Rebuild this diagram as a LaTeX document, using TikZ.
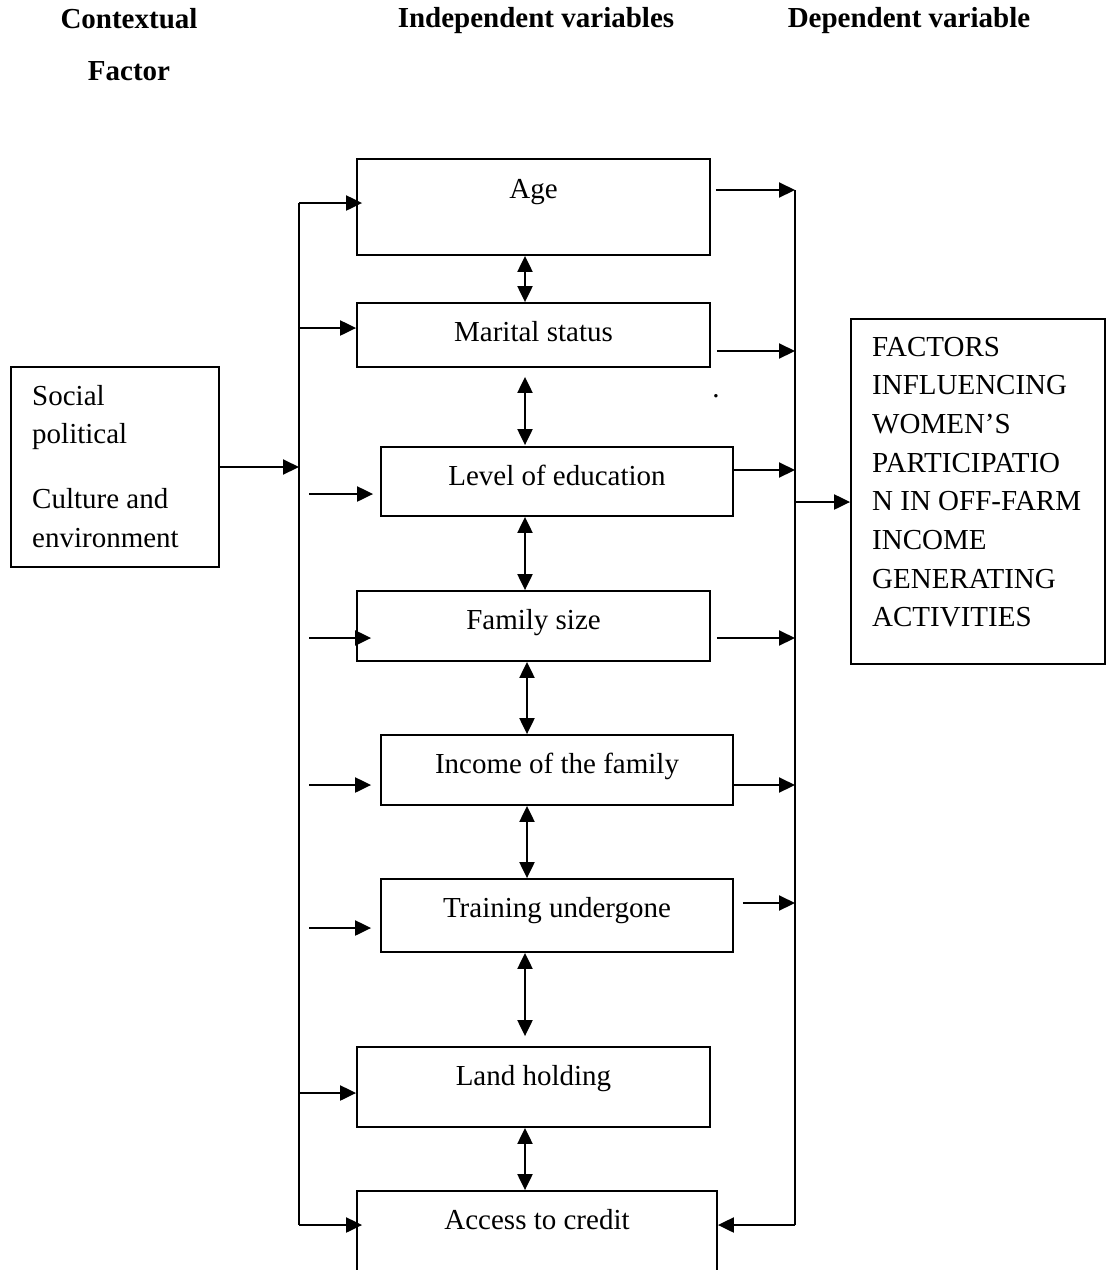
\documentclass[tikz,border=0pt]{standalone}
\usepackage{fontspec}
\setmainfont{Liberation Serif}
\usetikzlibrary{arrows.meta}
\begin{document}
\begin{tikzpicture}[x=1pt,y=-1pt,
  box/.style={draw, line width=1.8pt, inner sep=0pt},
  txt/.style={font=\fontsize{29}{38.7}\selectfont, inner sep=0pt, anchor=base},
  ltxt/.style={font=\fontsize{29}{38.7}\selectfont, inner sep=0pt, anchor=base west},
  ttl/.style={font=\fontsize{29}{38.7}\selectfont\bfseries, inner sep=0pt, anchor=base},
  ln/.style={line width=1.8pt},
  arr/.style={line width=2.1pt, -{Triangle[length=16pt,width=15pt]}},
  dbl/.style={line width=2.1pt, {Triangle[length=16pt,width=15pt]}-{Triangle[length=16pt,width=15pt]}}]
\useasboundingbox (0,0) rectangle (1109,1270);

% titles
\node[ttl] (t1) at (129,28) {Contextual};
\node[ttl] (t2) at (129,80) {Factor};
\node[ttl] (t3) at (536,27) {Independent variables};
\node[ttl] (t4) at (909,27) {Dependent variable};

% boxes
\node[box, minimum width=353pt, minimum height=96pt] (age) at (533.5,207) {};
\node[box, minimum width=353pt, minimum height=64pt] (mar) at (533.5,335) {};
\node[box, minimum width=352pt, minimum height=69pt] (edu) at (557,481.5) {};
\node[box, minimum width=353pt, minimum height=70pt] (fam) at (533.5,626) {};
\node[box, minimum width=352pt, minimum height=70pt] (inc) at (557,770) {};
\node[box, minimum width=352pt, minimum height=73pt] (trn) at (557,915.5) {};
\node[box, minimum width=353pt, minimum height=80pt] (land) at (533.5,1087) {};
\node[box, minimum width=360pt, minimum height=100pt] (acc) at (537,1241) {};
\node[box, minimum width=208pt, minimum height=200pt] (soc) at (115,467) {};
\node[box, minimum width=254pt, minimum height=345pt] (fac) at (978,491.5) {};

% box texts
\node[txt] (ageT) at (533.5,198) {Age};
\node[txt] (marT) at (533.5,341) {Marital status};
\node[txt] (eduT) at (557,485) {Level of education};
\node[txt] (famT) at (533.5,629) {Family size};
\node[txt] (incT) at (557,773) {Income of the family};
\node[txt] (trnT) at (557,917) {Training undergone};
\node[txt] (landT) at (533.5,1085) {Land holding};
\node[txt] (accT) at (537,1229) {Access to credit};

\node[ltxt] (s1) at (32,405) {Social};
\node[ltxt] (s2) at (32,443) {political};
\node[ltxt] (s3) at (32,508) {Culture and};
\node[ltxt] (s4) at (32,547) {environment};

\foreach \t [count=\i] in {FACTORS,INFLUENCING,WOMEN’S,PARTICIPATIO,N IN OFF-FARM,INCOME,GENERATING,ACTIVITIES}
  \node[ltxt] (f\i) at (872,{356+(\i-1)*38.7}) {\t};

\node[txt] (dot) at (716,397) {.};

% left trunk
\coordinate (lt) at (299,203);
\coordinate (lb) at (299,1225);
\draw[ln] (lt) -- (lb);
\draw[arr] (soc.east) -- (soc.east -| lt);
\draw[arr] (lt) -- ([xshift=6pt]age.west |- lt);
\coordinate (lm) at (299,328);
\draw[arr] (lm) -- (mar.west |- lm);
\coordinate (le) at (309,494);
\draw[arr] (le) -- ([xshift=-7pt]edu.west |- le);
\coordinate (lf) at (309,638);
\draw[arr] (lf) -- ([xshift=15pt]fam.west |- lf);
\coordinate (li) at (309,785);
\draw[arr] (li) -- ([xshift=-9pt]inc.west |- li);
\coordinate (lr) at (309,928);
\draw[arr] (lr) -- ([xshift=-9pt]trn.west |- lr);
\coordinate (ll) at (299,1093);
\draw[arr] (ll) -- (land.west |- ll);
\draw[arr] (lb) -- ([xshift=6pt]acc.west |- lb);

% right trunk
\coordinate (rt) at (795,190);
\coordinate (rb) at (795,1225);
\draw[ln] (rt) -- (rb);
\draw[arr] (rb) -- (acc.east |- rb);
\draw[arr] ([xshift=5pt]age.east |- rt) -- (rt);
\coordinate (rm) at (795,351);
\draw[arr] ([xshift=6pt]mar.east |- rm) -- (rm);
\coordinate (re) at (795,470);
\draw[arr] (edu.east |- re) -- (re);
\coordinate (rf) at (795,638);
\draw[arr] ([xshift=6pt]fam.east |- rf) -- (rf);
\coordinate (ri) at (795,785);
\draw[arr] (inc.east |- ri) -- (ri);
\coordinate (rr) at (795,903);
\draw[arr] ([xshift=9pt]trn.east |- rr) -- (rr);
\coordinate (rx) at (795,502);
\draw[arr] (rx) -- (fac.west |- rx);

% vertical double arrows
\coordinate (cx) at (525,0);
\coordinate (cy) at (527,0);
\draw[dbl] (age.south -| cx) -- (mar.north -| cx);
\draw[dbl] ([yshift=-9pt]mar.south -| cx) -- ([yshift=1pt]edu.north -| cx);
\draw[dbl] (edu.south -| cx) -- (fam.north -| cx);
\draw[dbl] (fam.south -| cy) -- (inc.north -| cy);
\draw[dbl] (inc.south -| cy) -- (trn.north -| cy);
\draw[dbl] (trn.south -| cx) -- ([yshift=10pt]land.north -| cx);
\draw[dbl] (land.south -| cx) -- (acc.north -| cx);
\end{tikzpicture}
\end{document}
